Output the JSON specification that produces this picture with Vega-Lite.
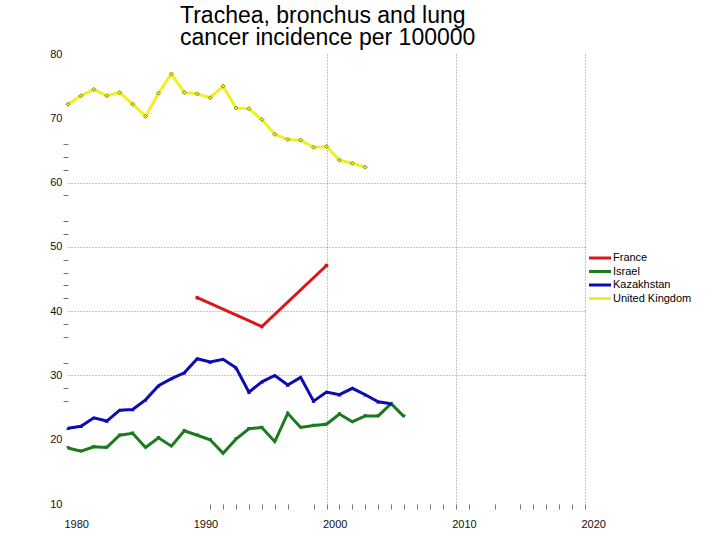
{
  "$schema": "https://vega.github.io/schema/vega-lite/v6.json",
  "autosize": {"type": "none"},
  "width": 517,
  "height": 450,
  "padding": {"left": 68, "top": 54, "right": 135, "bottom": 36},
  "background": "white",
  "config": {"view": {"stroke": null}, "font": "Liberation Sans"},
  "title": {
    "text": ["Trachea, bronchus and lung", "cancer incidence per 100000"],
    "anchor": "start",
    "frame": "group",
    "dx": 112,
    "fontSize": 23,
    "font": "Liberation Sans",
    "fontWeight": "normal",
    "color": "#000000",
    "lineHeight": 22,
    "offset": -2
  },
  "data": {
    "values": [
      {"country": "France", "year": 1990, "value": 42.1},
      {"country": "France", "year": 1995, "value": 37.6},
      {"country": "France", "year": 2000, "value": 47.1},
      {"country": "Israel", "year": 1980, "value": 18.7},
      {"country": "Israel", "year": 1981, "value": 18.2},
      {"country": "Israel", "year": 1982, "value": 18.9},
      {"country": "Israel", "year": 1983, "value": 18.8},
      {"country": "Israel", "year": 1984, "value": 20.7},
      {"country": "Israel", "year": 1985, "value": 21.0},
      {"country": "Israel", "year": 1986, "value": 18.8},
      {"country": "Israel", "year": 1987, "value": 20.3},
      {"country": "Israel", "year": 1988, "value": 19.0},
      {"country": "Israel", "year": 1989, "value": 21.4},
      {"country": "Israel", "year": 1990, "value": 20.7},
      {"country": "Israel", "year": 1991, "value": 20.0},
      {"country": "Israel", "year": 1992, "value": 17.9},
      {"country": "Israel", "year": 1993, "value": 20.1},
      {"country": "Israel", "year": 1994, "value": 21.7},
      {"country": "Israel", "year": 1995, "value": 21.9},
      {"country": "Israel", "year": 1996, "value": 19.7},
      {"country": "Israel", "year": 1997, "value": 24.1},
      {"country": "Israel", "year": 1998, "value": 21.9},
      {"country": "Israel", "year": 1999, "value": 22.2},
      {"country": "Israel", "year": 2000, "value": 22.4},
      {"country": "Israel", "year": 2001, "value": 24.0},
      {"country": "Israel", "year": 2002, "value": 22.8},
      {"country": "Israel", "year": 2003, "value": 23.7},
      {"country": "Israel", "year": 2004, "value": 23.7},
      {"country": "Israel", "year": 2005, "value": 25.6},
      {"country": "Israel", "year": 2006, "value": 23.6},
      {"country": "Kazakhstan", "year": 1980, "value": 21.8},
      {"country": "Kazakhstan", "year": 1981, "value": 22.1},
      {"country": "Kazakhstan", "year": 1982, "value": 23.4},
      {"country": "Kazakhstan", "year": 1983, "value": 22.9},
      {"country": "Kazakhstan", "year": 1984, "value": 24.6},
      {"country": "Kazakhstan", "year": 1985, "value": 24.7},
      {"country": "Kazakhstan", "year": 1986, "value": 26.2},
      {"country": "Kazakhstan", "year": 1987, "value": 28.4},
      {"country": "Kazakhstan", "year": 1988, "value": 29.5},
      {"country": "Kazakhstan", "year": 1989, "value": 30.4},
      {"country": "Kazakhstan", "year": 1990, "value": 32.6},
      {"country": "Kazakhstan", "year": 1991, "value": 32.1},
      {"country": "Kazakhstan", "year": 1992, "value": 32.5},
      {"country": "Kazakhstan", "year": 1993, "value": 31.2},
      {"country": "Kazakhstan", "year": 1994, "value": 27.4},
      {"country": "Kazakhstan", "year": 1995, "value": 29.0},
      {"country": "Kazakhstan", "year": 1996, "value": 30.0},
      {"country": "Kazakhstan", "year": 1997, "value": 28.5},
      {"country": "Kazakhstan", "year": 1998, "value": 29.7},
      {"country": "Kazakhstan", "year": 1999, "value": 26.0},
      {"country": "Kazakhstan", "year": 2000, "value": 27.4},
      {"country": "Kazakhstan", "year": 2001, "value": 27.0},
      {"country": "Kazakhstan", "year": 2002, "value": 28.0},
      {"country": "Kazakhstan", "year": 2003, "value": 27.0},
      {"country": "Kazakhstan", "year": 2004, "value": 25.9},
      {"country": "Kazakhstan", "year": 2005, "value": 25.6},
      {"country": "United Kingdom", "year": 1980, "value": 72.2},
      {"country": "United Kingdom", "year": 1981, "value": 73.5},
      {"country": "United Kingdom", "year": 1982, "value": 74.5},
      {"country": "United Kingdom", "year": 1983, "value": 73.5},
      {"country": "United Kingdom", "year": 1984, "value": 74.0},
      {"country": "United Kingdom", "year": 1985, "value": 72.2},
      {"country": "United Kingdom", "year": 1986, "value": 70.3},
      {"country": "United Kingdom", "year": 1987, "value": 73.9},
      {"country": "United Kingdom", "year": 1988, "value": 76.9},
      {"country": "United Kingdom", "year": 1989, "value": 74.0},
      {"country": "United Kingdom", "year": 1990, "value": 73.8},
      {"country": "United Kingdom", "year": 1991, "value": 73.2},
      {"country": "United Kingdom", "year": 1992, "value": 75.0},
      {"country": "United Kingdom", "year": 1993, "value": 71.6},
      {"country": "United Kingdom", "year": 1994, "value": 71.5},
      {"country": "United Kingdom", "year": 1995, "value": 69.8},
      {"country": "United Kingdom", "year": 1996, "value": 67.5},
      {"country": "United Kingdom", "year": 1997, "value": 66.7},
      {"country": "United Kingdom", "year": 1998, "value": 66.6},
      {"country": "United Kingdom", "year": 1999, "value": 65.5},
      {"country": "United Kingdom", "year": 2000, "value": 65.6},
      {"country": "United Kingdom", "year": 2001, "value": 63.5},
      {"country": "United Kingdom", "year": 2002, "value": 63.0},
      {"country": "United Kingdom", "year": 2003, "value": 62.4}
    ]
  },
  "encoding": {
    "x": {
      "field": "year",
      "type": "quantitative",
      "title": null,
      "scale": {"domain": [1980, 2020], "nice": false, "zero": false},
      "axis": {
        "values": [1980, 1990, 2000, 2010, 2020, 1991, 1992, 1993, 1994, 1995, 1996, 1997, 1999, 2001, 2002, 2003, 2004, 2005, 2006, 2007, 2008, 2009, 2011, 2013, 2015, 2016, 2017, 2018, 2019],
        "format": "d",
        "labelExpr": "datum.value % 10 === 0 ? datum.label : ''",
        "domain": false,
        "labelFont": "Liberation Sans",
        "labelFontSize": 11,
        "labelColor": "#111111",
        "labelAlign": "left",
        "labelOffset": -4,
        "labelPadding": 9,
        "labelBound": false,
        "labelFlush": false,
        "labelOverlap": false,
        "tickColor": "#777777",
        "tickSize": 5,
        "tickOpacity": {"condition": {"test": "datum.value === 1980 || datum.value === 1990", "value": 0}, "value": 1},
        "gridColor": "#888888",
        "gridDash": [1, 2],
        "gridOpacity": {"condition": {"test": "datum.value >= 2000 && datum.value % 10 === 0", "value": 1}, "value": 0}
      }
    },
    "y": {
      "field": "value",
      "type": "quantitative",
      "title": null,
      "scale": {"domain": [10, 80], "nice": false, "zero": false},
      "axis": {
        "values": [10, 20, 30, 40, 50, 60, 70, 80, 26, 28, 32, 36, 38, 42, 44, 46, 48, 52, 54, 58, 62, 64, 66],
        "labelExpr": "datum.value % 10 === 0 ? datum.label : ''",
        "domain": false,
        "labelFont": "Liberation Sans",
        "labelFontSize": 11,
        "labelColor": "#111111",
        "labelPadding": 1,
        "labelOverlap": false,
        "labelBound": false,
        "tickColor": "#777777",
        "tickSize": 5,
        "tickOpacity": {"condition": {"test": "datum.value % 10 === 0", "value": 0}, "value": 1},
        "gridColor": "#888888",
        "gridDash": [1, 2],
        "gridOpacity": {"condition": {"test": "datum.value >= 30 && datum.value <= 60 && datum.value % 10 === 0", "value": 1}, "value": 0}
      }
    },
    "color": {
      "field": "country",
      "type": "nominal",
      "scale": {
        "domain": ["France", "Israel", "Kazakhstan", "United Kingdom"],
        "range": ["#dd1515", "#1b7a1b", "#0c0cb0", "#f0f020"]
      }
    }
  },
  "resolve": {"legend": {"color": "independent", "shape": "independent"}},
  "layer": [
    {
      "mark": {"type": "line", "strokeWidth": 3},
      "encoding": {
        "color": {
          "field": "country",
          "type": "nominal",
          "legend": {
            "title": null,
            "orient": "none",
            "legendX": 525,
            "legendY": 197,
            "symbolType": "M-2,0H2",
            "symbolSize": 121,
            "symbolStrokeWidth": 3,
            "labelFont": "Liberation Sans",
            "labelFontSize": 11,
            "labelColor": "#000000",
            "labelOffset": 6,
            "rowPadding": 0.5
          }
        }
      }
    },
    {
      "mark": {"type": "point", "filled": true, "size": 16, "opacity": 1, "strokeWidth": 0.8},
      "encoding": {
        "color": {"field": "country", "type": "nominal", "legend": null},
        "stroke": {"condition": {"test": "datum.country === 'United Kingdom'", "value": "#6a6a1a"}, "value": "transparent"},
        "shape": {
          "field": "country",
          "type": "nominal",
          "legend": null,
          "scale": {
            "domain": ["France", "Israel", "Kazakhstan", "United Kingdom"],
            "range": ["circle", "triangle-down", "triangle-up", "diamond"]
          }
        }
      }
    }
  ]
}
